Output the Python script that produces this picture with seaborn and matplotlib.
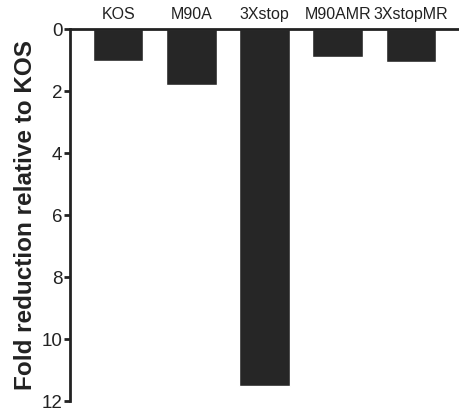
import pandas as pd
import numpy as np
import matplotlib
matplotlib.use("Agg")
import matplotlib.pyplot as plt
import seaborn as sns

strains = ["KOS", "M90A", "3Xstop", "M90AMR", "3XstopMR"]
fold_reduction = [1.02, 1.81, 11.52, 0.88, 1.05]

df = pd.DataFrame({"strain": strains, "fold": fold_reduction})

sns.set_style("white")
plt.rcParams['font.family'] = ['Liberation Sans', 'DejaVu Sans']

fig = plt.figure(figsize=(4.59, 4.11), dpi=100)
ax = fig.add_axes([70 / 459, 1 - 401 / 411, 1 - 70 / 459, (401 - 29.3) / 411])

sns.barplot(x="strain", y="fold", data=df, order=strains, color="#262626",
            width=0.69, saturation=1, ax=ax)

ax.set_ylim(12, 0)
ax.set_xlim(-0.66, 4.66)
ax.set_yticks([0, 2, 4, 6, 8, 10, 12])
ax.xaxis.tick_top()
ax.tick_params(axis="x", length=0, labelsize=11.5, pad=5, colors="#222222")
ax.tick_params(axis="y", length=4.5, width=2, labelsize=13.5, pad=1,
               left=True, colors="#222222")
ax.set_xlabel("")
ax.set_ylabel("Fold reduction relative to KOS", fontsize=17.5,
              fontweight="bold", color="#222222", labelpad=3)

for side in ["bottom", "right"]:
    ax.spines[side].set_visible(False)
for side in ["top", "left"]:
    ax.spines[side].set_linewidth(2)
    ax.spines[side].set_color("#222222")

fig.savefig("out.png", dpi=100)
